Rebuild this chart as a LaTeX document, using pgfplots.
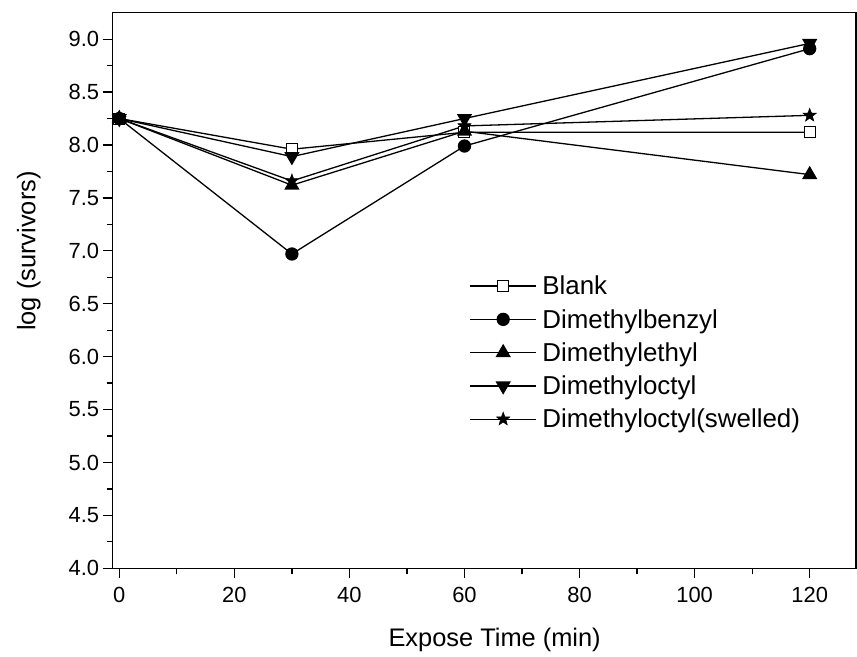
\documentclass[border=0pt]{standalone}
\usepackage{pgfplots}
\pgfplotsset{compat=1.18}
\usepackage{fontspec}
\setmainfont{Liberation Sans}
\pgfdeclareplotmark{fstar}{%
  \pgfpathmoveto{\pgfpointpolar{90}{\pgfplotmarksize}}%
  \pgfpathlineto{\pgfpointpolar{126}{0.42\pgfplotmarksize}}%
  \pgfpathlineto{\pgfpointpolar{162}{\pgfplotmarksize}}%
  \pgfpathlineto{\pgfpointpolar{198}{0.42\pgfplotmarksize}}%
  \pgfpathlineto{\pgfpointpolar{234}{\pgfplotmarksize}}%
  \pgfpathlineto{\pgfpointpolar{270}{0.42\pgfplotmarksize}}%
  \pgfpathlineto{\pgfpointpolar{306}{\pgfplotmarksize}}%
  \pgfpathlineto{\pgfpointpolar{342}{0.42\pgfplotmarksize}}%
  \pgfpathlineto{\pgfpointpolar{18}{\pgfplotmarksize}}%
  \pgfpathlineto{\pgfpointpolar{54}{0.42\pgfplotmarksize}}%
  \pgfpathclose
  \pgfusepathqfillstroke
}
\begin{document}
\begin{tikzpicture}
\path[use as bounding box] (-112.7bp,-88.7bp) rectangle (744.3bp,568.3bp);
\begin{axis}[
  at={(0,0)}, anchor=south west,
  scale only axis, width=743bp, height=555.6bp,
  xmin=-1.15, xmax=128, ymin=4, ymax=9.25,
  xtick={0,20,...,120}, ytick={4,4.5,...,9},
  minor x tick num=1, minor y tick num=1,
  tick pos=left, tick align=outside,
  major tick length=10bp, minor tick length=6bp,
  axis line style={line width=1.6bp},
  every tick/.style={black, line width=1.3bp},
  y tick label style={/pgf/number format/.cd, fixed, fixed zerofill, precision=1},
  x tick label style={yshift=-5bp},
  /pgf/number format/assume math mode=true,
  tick label style={font=\fontsize{22}{25}\selectfont},
  xlabel={Expose Time (min)}, ylabel={log (survivors)},
  every axis x label/.style={at={(axis description cs:0.514,-0.1296)}, anchor=center, font=\fontsize{25.5}{28}\selectfont},
  every axis y label/.style={at={(axis description cs:-0.1129,0.571)}, anchor=center, rotate=90, font=\fontsize{25.5}{28}\selectfont},
  legend style={at={(0.48,0.531)}, anchor=north west, draw=none, fill=none,
    font=\fontsize{26}{30}\selectfont, inner sep=0pt, row sep=8bp, column sep=3bp,
    nodes={inner sep=2.5bp}, cells={anchor=west}},
  legend image code/.code={\draw[mark repeat=2,mark phase=2] plot coordinates {(0bp,0bp) (33bp,0bp) (66bp,0bp)};},
  every axis plot/.append style={black, line width=1.3bp},
]
\addplot[mark=square*, mark size=5.5bp, mark options={fill=white, draw=black, line width=1bp}] coordinates {(0,8.25) (30,7.96) (60,8.12) (120,8.12)};
\addlegendentry{Blank}
\addplot[mark=*, mark size=6bp, mark options={fill=black}] coordinates {(0,8.25) (30,6.97) (60,7.99) (120,8.91)};
\addlegendentry{Dimethylbenzyl}
\addplot[mark=triangle*, mark size=7.5bp, mark options={fill=black}] coordinates {(0,8.25) (30,7.62) (60,8.13) (120,7.72)};
\addlegendentry{Dimethylethyl}
\addplot[mark=triangle*, mark size=7.5bp, mark options={fill=black, rotate=180}] coordinates {(0,8.25) (30,7.89) (60,8.25) (120,8.96)};
\addlegendentry{Dimethyloctyl}
\addplot[mark=fstar, mark size=7bp, mark options={fill=black, line width=0.5bp}] coordinates {(0,8.25) (30,7.66) (60,8.18) (120,8.28)};
\addlegendentry{Dimethyloctyl(swelled)}
\end{axis}
\end{tikzpicture}
\end{document}
